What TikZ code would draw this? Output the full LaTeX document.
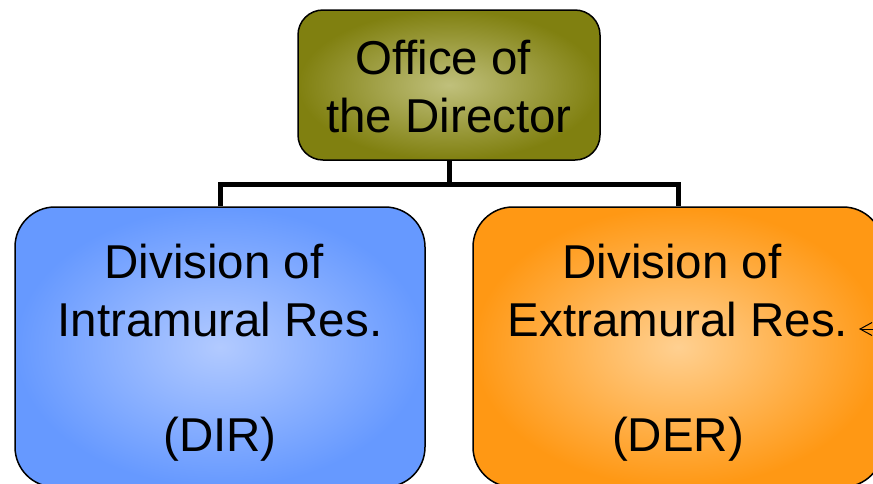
\documentclass[tikz,border=0pt]{standalone}
\usepackage{fontspec}
\setmainfont{Liberation Sans}
\usetikzlibrary{arrows.meta}
\definecolor{oliveE}{RGB}{128,128,16}
\definecolor{oliveC}{RGB}{192,192,124}
\definecolor{blueE}{RGB}{102,153,255}
\definecolor{blueC}{RGB}{178,202,255}
\definecolor{orangeE}{RGB}{255,152,20}
\definecolor{orangeC}{RGB}{255,208,145}
\tikzset{
  box/.style={draw=black, line width=1.5pt, shape=rectangle},
  lbl/.style={anchor=base, inner sep=0pt, font=\fontsize{47.5}{58}\selectfont},
  conn/.style={line width=5pt, draw=black},
}
\begin{document}
\begin{tikzpicture}[x=1pt,y=-1pt]
\useasboundingbox (0,0) rectangle (873,483);
\clip (0,0) rectangle (873,483);
% connectors
\coordinate (hb) at (449,184.5);
\node[box, rounded corners=25pt, minimum width=302pt, minimum height=150pt, inner color=oliveC, outer color=oliveE] (od) at (449,85) {};
\node[box, rounded corners=40pt, minimum width=410pt, minimum height=280pt, inner color=blueC, outer color=blueE] (dir) at (220,347) {};
\node[box, rounded corners=40pt, minimum width=410pt, minimum height=280pt, inner color=orangeC, outer color=orangeE] (der) at (678,347) {};
\draw[conn] (od.south) -- (hb);
\draw[conn] (dir.north) |- (hb) -| (der.north);
% labels
\node[lbl] (od1) at (449,74) {Office of\hspace*{.25em}};
\node[lbl] (od2) at (449,132) {the Director};
\node[lbl] (dir1) at (220,278) {Division of\hspace*{.25em}};
\node[lbl] (dir2) at (220,336) {Intramural Res.};
\node[lbl] (dir3) at (220,451) {(DIR)};
\node[lbl] (der1) at (678,278) {Division of\hspace*{.25em}};
\node[lbl] (der2) at (678,336) {Extramural Res.};
\node[lbl] (der3) at (678,451) {(DER)};
% arrow from outside
\coordinate (asrc) at (885,329);
\coordinate (atip) at (859,329);
\draw[line width=1pt, -{Straight Barb[length=12pt,width=13pt]}] (asrc) -- (atip);
\end{tikzpicture}
\end{document}
